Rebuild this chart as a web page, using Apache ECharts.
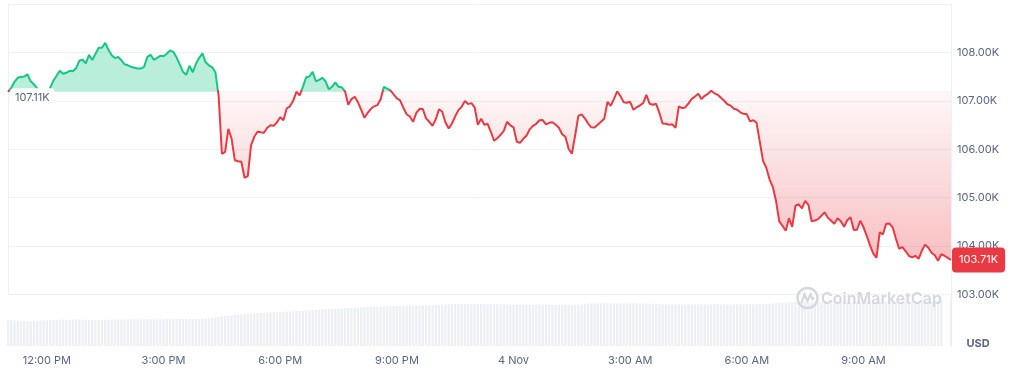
<!DOCTYPE html>
<html><head><meta charset="utf-8">
<script src="https://cdn.jsdelivr.net/npm/echarts@6/dist/echarts.min.js"></script>
<style>html,body{margin:0;padding:0;background:#fff}#c{width:1011px;height:372px}</style>
</head><body><div id="c"></div>
<script>
// time axis: 5-minute points starting 11:00 AM (3 Nov)
const startMinutes = 11 * 60;
const stepMinutes = 5;

// BTC price in thousands USD
const prices = [
107.186,107.269,107.393,107.475,107.490,107.500,107.548,107.403,107.341,107.258,107.165,107.062,
107.000,107.269,107.413,107.517,107.620,107.558,107.579,107.620,107.610,107.671,107.826,107.847,
107.775,107.950,107.841,107.971,108.095,108.095,108.198,108.054,107.940,107.882,107.905,107.837,
107.754,107.733,107.702,107.682,107.669,107.667,107.702,107.909,107.950,107.847,107.888,107.930,
107.919,107.971,108.043,108.012,107.899,107.754,107.599,107.537,107.723,107.589,107.764,107.888,
107.981,107.795,107.733,107.692,107.589,107.103,105.905,105.946,106.421,106.215,105.771,105.750,
105.740,105.409,105.450,106.081,106.256,106.360,106.349,106.339,106.442,106.494,106.483,106.556,
106.659,106.597,106.841,106.886,107.000,107.186,107.114,107.289,107.486,107.502,107.599,107.403,
107.434,107.475,107.403,107.238,107.289,107.382,107.289,107.279,107.196,106.917,107.035,107.083,
106.969,106.814,106.649,106.752,106.835,106.886,106.911,107.031,107.289,107.252,107.217,107.134,
107.052,107.010,106.855,106.723,106.676,106.566,106.752,106.835,106.831,106.638,106.566,106.483,
106.618,106.824,106.773,106.552,106.428,106.531,106.680,106.808,106.876,106.996,106.932,106.952,
106.866,106.504,106.628,106.504,106.525,106.360,106.174,106.225,106.298,106.380,106.566,106.494,
106.452,106.153,106.132,106.215,106.277,106.411,106.483,106.525,106.597,106.601,106.514,106.545,
106.556,106.504,106.442,106.310,106.256,106.008,105.905,106.277,106.690,106.721,106.638,106.529,
106.452,106.446,106.504,106.566,106.628,106.979,106.897,107.041,107.196,107.093,106.969,106.959,
106.979,106.814,106.866,106.907,106.952,107.124,106.938,106.917,106.938,106.752,106.531,106.525,
106.504,106.514,106.442,106.886,106.849,106.862,106.948,107.041,107.087,107.145,107.035,107.103,
107.145,107.207,107.155,107.124,107.062,107.000,106.928,106.901,106.835,106.814,106.762,106.731,
106.721,106.576,106.597,106.545,106.153,105.760,105.616,105.378,105.223,104.934,104.510,104.417,
104.314,104.572,104.397,104.831,104.862,104.779,104.934,104.851,104.510,104.527,104.556,104.624,
104.696,104.583,104.521,104.459,104.572,104.510,104.397,104.531,104.593,104.329,104.335,104.521,
104.386,104.211,104.014,103.849,103.756,104.283,104.242,104.459,104.463,104.386,104.149,103.942,
103.977,103.891,103.798,103.764,103.798,103.736,103.901,104.029,103.963,103.860,103.808,103.694,
103.829,103.798,103.756,103.710
];

// volume bars (estimated, arbitrary billions USD)
const volumes = [
51.5,51.8,51.2,50.6,50.2,50.0,49.6,49.8,50.1,50.4,50.9,51.3,
51.6,52.0,52.3,52.1,52.6,53.0,52.8,52.5,52.9,53.2,53.0,52.7,
52.4,52.2,52.1,51.9,52.0,52.3,52.6,52.4,52.7,53.0,52.8,52.6,
53.1,53.4,53.2,53.5,53.3,53.1,53.4,53.6,53.3,53.5,53.2,53.4,
53.6,53.9,53.7,53.5,53.8,54.0,53.7,53.9,54.2,53.8,53.6,54.0,
54.3,55.0,55.9,56.8,57.6,58.4,59.3,60.1,60.6,61.2,61.9,62.6,
63.1,63.8,64.4,65.0,65.3,65.7,66.0,66.4,66.9,67.2,67.4,67.7,
68.0,68.4,68.7,69.1,69.4,69.8,70.2,70.5,70.9,71.4,72.0,72.6,
73.0,73.3,73.6,73.9,74.2,74.6,74.9,75.3,75.6,75.9,76.3,76.7,
77.0,77.2,77.5,77.9,78.2,78.4,78.7,79.0,79.2,79.5,79.3,79.7,
80.0,80.3,80.1,80.5,80.8,81.0,80.9,81.2,81.5,81.3,81.6,81.9,
82.1,82.4,82.6,82.9,83.2,83.6,84.0,84.3,84.2,84.0,84.1,83.9,
84.0,83.8,84.1,83.9,83.7,83.8,84.0,83.6,83.4,83.2,82.9,82.7,
82.6,82.8,82.5,82.7,82.9,82.6,82.4,82.8,83.0,82.7,82.5,82.6,
82.8,82.4,82.6,82.3,82.5,82.7,82.4,82.6,82.9,83.3,84.6,85.0,
85.2,85.4,85.1,85.3,85.5,85.2,85.0,85.3,85.4,85.1,85.3,85.2,
85.0,85.3,85.1,84.9,85.2,85.0,84.8,84.5,84.0,83.6,83.4,83.2,
83.3,83.1,83.4,83.2,83.0,83.3,83.5,83.2,83.0,83.4,83.1,83.3,
83.0,83.2,83.5,83.3,83.1,83.4,83.2,83.0,83.3,83.5,83.2,83.4,
83.6,83.3,83.5,83.8,83.6,84.0,84.3,84.6,85.2,85.9,86.5,86.8,
87.0,87.2,87.5,87.8,88.0,87.9,88.1,88.0,87.8,88.0,88.2,88.1,
88.0,88.3,88.1,88.4,88.2,88.0,88.3,88.5,88.2,88.4,88.6,88.3,
88.5,88.7,88.4,88.6,88.8,88.5,88.7,88.9,88.6,88.8,89.0,88.7,
88.9,89.1,88.8,89.0,89.2,88.9,89.1,89.3,89.0,89.2,89.4,89.6,
90.0,null,null,93.4
];

const xTickLabels = ['12:00 PM','3:00 PM','6:00 PM','9:00 PM','4 Nov','3:00 AM','6:00 AM','9:00 AM'];
const yTickValues = [103,104,105,106,107,108];
const openLabel = '107.11K';
const currencyLabel = 'USD';
const brandLabel = 'CoinMarketCap';

const categories = prices.map((_, i) => {
  const m = (startMinutes + i * stepMinutes) % 1440;
  if (m === 0) return '4 Nov';
  const h = Math.floor(m / 60), mm = m % 60;
  const ap = h >= 12 ? 'PM' : 'AM';
  let h12 = h % 12; if (h12 === 0) h12 = 12;
  return h12 + ':' + String(mm).padStart(2, '0') + ' ' + ap;
});

const baseline = prices[0];
const pMax = Math.max(...prices), pMin = Math.min(...prices);
const f = (pMax - baseline) / (pMax - pMin);
const FONT = 'Inter';
const GREEN = '#16c784', RED = '#ea3943', LABEL = '#58667e', GRID = '#eff2f5';

const lineGradient = new echarts.graphic.LinearGradient(0, 0, 0, 1, [
  { offset: 0, color: GREEN }, { offset: f, color: GREEN },
  { offset: f, color: RED }, { offset: 1, color: RED }
]);
const areaGradient = new echarts.graphic.LinearGradient(0, 0, 0, 1, [
  { offset: 0, color: 'rgba(22,199,132,0.3)' },
  { offset: f, color: 'rgba(22,199,132,0.3)' },
  { offset: f, color: 'rgba(234,57,67,0.04)' },
  { offset: 1, color: 'rgba(234,57,67,0.32)' }
]);

const chart = echarts.init(document.getElementById('c'));
chart.setOption({
  animation: false,
  textStyle: { fontFamily: FONT },
  grid: [
    { left: 8, right: 60, top: 4, bottom: 77.6 },
    { left: 8, right: 60, top: 256, bottom: 26 }
  ],
  xAxis: [
    { type: 'category', gridIndex: 0, data: categories, boundaryGap: false, show: false },
    { type: 'category', gridIndex: 1, data: categories, boundaryGap: false,
      axisLine: { show: false }, axisTick: { show: false }, splitLine: { show: false },
      axisLabel: { interval: (i, v) => xTickLabels.includes(v), color: LABEL, fontSize: 11, margin: 9, fontFamily: FONT } }
  ],
  yAxis: [
    { type: 'value', gridIndex: 0, position: 'right', min: 103, max: 109, interval: 1,
      axisLine: { show: true, lineStyle: { color: GRID } }, axisTick: { show: false },
      splitLine: { show: true, lineStyle: { color: GRID, width: 1 } },
      axisLabel: { formatter: v => yTickValues.includes(v) ? v.toFixed(2) + 'K' : '', color: LABEL, fontSize: 11, margin: 6, fontFamily: FONT } },
    { type: 'value', gridIndex: 0, position: 'left', min: 103, max: 109,
      axisLine: { show: true, lineStyle: { color: GRID } }, axisTick: { show: false },
      axisLabel: { show: false }, splitLine: { show: false } },
    { type: 'value', gridIndex: 1, position: 'right', min: 0, max: 180,
      axisLine: { show: true, lineStyle: { color: GRID } }, axisTick: { show: false },
      axisLabel: { show: false }, splitLine: { show: false } }
  ],
  series: [
    {
      type: 'line', xAxisIndex: 0, yAxisIndex: 0, data: prices,
      symbol: 'none', showSymbol: false, lineStyle: { width: 2, color: lineGradient }, z: 3,
      itemStyle: { color: RED },
      areaStyle: { origin: baseline, color: areaGradient, opacity: 1 },
      endLabel: {
        show: true, distance: 1, formatter: p => p.value.toFixed(2) + 'K',
        backgroundColor: RED, color: '#fff', fontSize: 11, fontFamily: FONT,
        padding: [7, 7], borderRadius: 4
      },
      markPoint: {
        silent: true, symbol: 'circle', symbolSize: 0, itemStyle: { color: 'transparent' },
        data: [{ coord: [0, baseline] }],
        label: {
          show: true, position: 'right', distance: 2, offset: [0, 6], formatter: openLabel,
          color: LABEL, fontSize: 11, fontFamily: FONT, backgroundColor: '#fff',
          padding: [4, 5], borderRadius: 4
        }
      }
    },
    {
      type: 'bar', xAxisIndex: 1, yAxisIndex: 2, data: volumes,
      itemStyle: { color: '#eceff3' }, barCategoryGap: '30%', z: 1
    }
  ],
  graphic: [
    { type: 'text', z: 100, style: { x: 978, y: 344, text: currencyLabel, align: 'center', verticalAlign: 'middle', font: 'bold 11px Inter', fill: LABEL } },
    { type: 'circle', z: 100, shape: { cx: 807.5, cy: 298, r: 10 }, style: { fill: 'none', stroke: '#d3d8e0', lineWidth: 2.4 } },
    { type: 'polyline', z: 100, shape: { points: [[801.5, 303], [804.5, 294.5], [807.5, 301], [810.5, 294.5], [812.5, 299], [814, 297.5]] }, style: { fill: 'none', stroke: '#d3d8e0', lineWidth: 2.2 } },
    { type: 'text', z: 100, style: { x: 821, y: 299.5, text: brandLabel, align: 'left', verticalAlign: 'middle', font: '600 16px Inter', fill: '#d3d8e0' } }
  ]
});
</script></body></html>
